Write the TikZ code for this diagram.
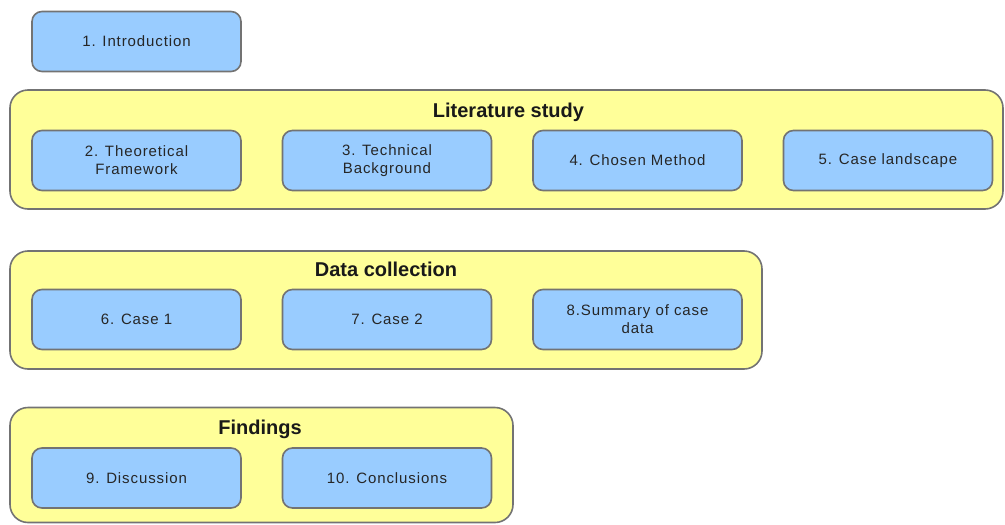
\documentclass[tikz,border=0pt]{standalone}
\usepackage{fontspec}
\setmainfont{Liberation Sans}
\begin{document}
\begin{tikzpicture}[x=1pt,y=-1pt,
  group/.style={draw=black!55, line width=1.6pt, fill=groupfill,
    rounded corners=18pt, inner sep=0pt},
  item/.style={draw=black!55, line width=1.6pt, fill=itemfill, rounded corners=10pt,
    minimum width=209pt, minimum height=60pt, inner sep=2pt, align=center,
    font=\fontsize{15}{18}\selectfont\addfontfeature{LetterSpace=6}, text=black!85},
  grouptitle/.style={anchor=base, font=\bfseries\fontsize{20}{22}\selectfont, text=black!90}]
\definecolor{groupfill}{HTML}{FFFF99}
\definecolor{itemfill}{HTML}{99CCFF}
\useasboundingbox (0,0) rectangle (1005,525);

% first chapter on its own
\node[item] (intro) at (136.5,41.5) {1. Introduction};

% literature study group
\node[group, minimum width=993pt, minimum height=119pt] (lit) at (506.5,149.5) {};
\node[grouptitle] (littitle) at (508.5,117) {Literature study};
\node[item] (theory) at (136.5,160.5) {2. Theoretical\\Framework};
\node[item] (tech) at (387,160.5) {3. Technical\\Background};
\node[item] (method) at (637.5,160.5) {4. Chosen Method};
\node[item] (landscape) at (888,160.5) {5. Case landscape};

% data collection group
\node[group, minimum width=752pt, minimum height=118pt] (data) at (386,310) {};
\node[grouptitle] (datatitle) at (386,276) {Data collection};
\node[item] (case1) at (136.5,319.5) {6. Case 1};
\node[item] (case2) at (387,319.5) {7. Case 2};
\node[item] (summary) at (637.5,319.5) {8.Summary of case\\data};

% findings group
\node[group, minimum width=503pt, minimum height=115pt] (find) at (261.5,465) {};
\node[grouptitle] (findtitle) at (260,434) {Findings};
\node[item] (discussion) at (136.5,478) {9. Discussion};
\node[item] (conclusions) at (387,478) {10. Conclusions};
\end{tikzpicture}
\end{document}
